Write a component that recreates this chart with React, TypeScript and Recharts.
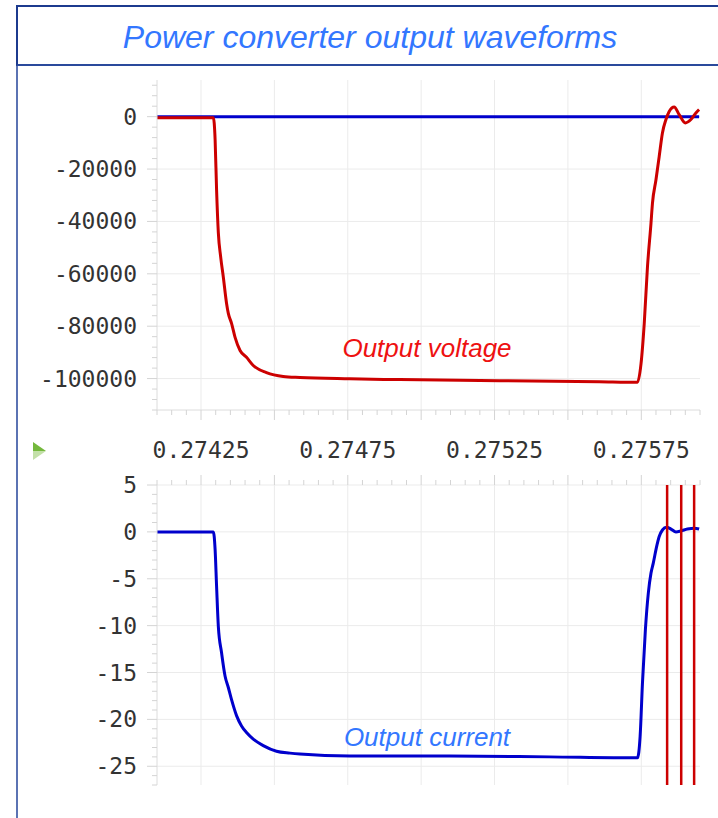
import React from "react";
import { LineChart, Line, XAxis, YAxis, CartesianGrid, ReferenceLine } from "recharts";

// time axis (s)
const xDomain: [number, number] = [0.2741, 0.27595];
const xLabels = ["0.27425", "0.27475", "0.27525", "0.27575"];
const xGrid = [0.27425, 0.2745, 0.27475, 0.275, 0.27525, 0.2755, 0.27575];

// output voltage samples
const voltageT = [
  0.2741, 0.27428, 0.274292, 0.274298, 0.274303, 0.274309, 0.274317, 0.274326, 0.274337,
  0.274343, 0.274354, 0.274366, 0.274383, 0.274405, 0.274428, 0.274473, 0.27453, 0.274587,
  0.274757, 0.274927, 0.275267, 0.275607, 0.275737, 0.275749, 0.27576, 0.275771, 0.275783,
  0.275788, 0.2758, 0.275811, 0.275822, 0.275834, 0.275845, 0.275862, 0.275879, 0.2759,
  0.275919, 0.275936, 0.275947,
];
const voltageV = [
  -400, -400, -400, -8800, -28000, -44400, -53600, -61300, -71300,
  -75100, -78900, -84300, -89300, -91900, -95000, -97700, -99200, -99600,
  -100100, -100400, -100800, -101200, -101400, -94400, -79000, -57400, -40700,
  -33100, -24100, -15200, -6200, -1100, 2000, 3700, 800, -2400,
  -1100, 1400, 2700,
];

// output current samples
const currentT = [
  0.2741, 0.274292, 0.274298, 0.274303, 0.274309, 0.27432, 0.274332, 0.274343, 0.274354,
  0.274371, 0.274388, 0.274405, 0.274428, 0.274462, 0.274507, 0.274553, 0.274587, 0.274757,
  0.275097, 0.275437, 0.275737, 0.275746, 0.275754, 0.275764, 0.275774, 0.275783, 0.275791,
  0.275802, 0.275811, 0.275822, 0.275836, 0.275851, 0.275868, 0.275885, 0.275907, 0.27593,
  0.275947,
];
const currentI = [
  0, 0, -1.9, -5.8, -10.1, -12.9, -15.4, -16.6, -17.9,
  -19.6, -20.7, -21.4, -22.1, -22.8, -23.4, -23.6, -23.7, -23.9,
  -23.9, -24.0, -24.1, -21.8, -16.1, -10.4, -6.5, -4.4, -3.3,
  -1.6, -0.5, 0.2, 0.5, 0.3, 0, 0.1, 0.3, 0.4,
  0.3,
];

// cursor markers
const markers = [0.275838, 0.275886, 0.27593];

const voltageData = voltageT.map((t, i) => ({ t, v: voltageV[i] }));
const currentData = currentT.map((t, i) => ({ t, v: currentI[i] }));

const xTicks: number[] = [];
for (let i = 0; i <= 37; i++) xTicks.push(Math.round((0.2741 + i * 0.00005) * 1e6) / 1e6);

const vTicks: number[] = [];
for (let v = -112000; v <= 12000; v += 4000) vTicks.push(v);
const vGrid = [0, -20000, -40000, -60000, -80000, -100000];

const iTicks: number[] = [];
for (let v = -27; v <= 5; v++) iTicks.push(v);
const iGrid = [5, 0, -5, -10, -15, -20, -25];

const tickFont = { fontFamily: "DejaVu Sans Mono, monospace", fontSize: 23, fill: "#333" };
const tickStroke = "#d4d4d4";
const gridStroke = "#ebebeb";

const isMajorX = (v: number) => Math.round(v * 1e5) % 25 === 0;
const xLabelFor = (v: number) => xLabels.find((s) => Math.abs(parseFloat(s) - v) < 1e-9);

const XTickBottom = (props: any) => {
  const { x, y, payload } = props;
  const label = xLabelFor(payload.value);
  return (
    <g>
      <line x1={x} x2={x} y1={y} y2={y + (isMajorX(payload.value) ? 10 : 5)} stroke={tickStroke} />
      {label && (
        <text x={x} y={y + 48} textAnchor="middle" {...tickFont}>
          {label}
        </text>
      )}
    </g>
  );
};

const XTickTop = (props: any) => {
  const { x, y, payload } = props;
  return <line x1={x} x2={x} y1={y} y2={y - (isMajorX(payload.value) ? 10 : 5)} stroke={tickStroke} />;
};

const makeYTick = (step: number) => (props: any) => {
  const { x, y, payload } = props;
  const major = Math.round(payload.value) % step === 0;
  return (
    <g>
      <line x1={x - (major ? 10 : 5)} x2={x} y1={y} y2={y} stroke={tickStroke} />
      {major && (
        <text x={x - 20} y={y} dy={8} textAnchor="end" {...tickFont}>
          {payload.value}
        </text>
      )}
    </g>
  );
};

export default function App() {
  return (
    <div style={{ position: "relative", width: 718, height: 818, background: "#fff", overflow: "hidden" }}>
      <style>{"body{margin:0}"}</style>
      {/* panel frame */}
      <div style={{ position: "absolute", left: 16, top: 63, width: 2, height: 760, background: "#5b73b3" }} />
      <div
        style={{
          position: "absolute",
          left: 16,
          top: 5,
          width: 720,
          height: 57,
          borderTop: "2px solid #1c3a8e",
          borderLeft: "2px solid #1c3a8e",
          borderBottom: "2px solid #2a4a9c",
        }}
      />
      <div
        style={{
          position: "absolute",
          left: 0,
          top: 20,
          width: 740,
          textAlign: "center",
          fontFamily: "Liberation Sans, Arial, sans-serif",
          fontStyle: "italic",
          fontSize: 32,
          lineHeight: "34px",
          color: "#3377ff",
        }}
      >
        Power converter output waveforms
      </div>

      <div style={{ position: "absolute", left: 0, top: 0 }}>
        <LineChart width={718} height={480} margin={{ top: 80, right: 18, bottom: 10, left: 0 }}>
          <CartesianGrid stroke={gridStroke} verticalValues={xGrid} horizontalValues={vGrid} />
          <XAxis
            type="number"
            dataKey="t"
            domain={xDomain}
            allowDataOverflow
            ticks={xTicks}
            interval={0}
            tickSize={0}
            tickMargin={0}
            tickLine={false}
            axisLine={{ stroke: "#dcdcdc" }}
            tick={XTickBottom}
            height={60}
          />
          <YAxis
            type="number"
            domain={[-112000, 14000]}
            allowDataOverflow
            ticks={vTicks}
            interval={0}
            tickSize={0}
            tickMargin={0}
            tickLine={false}
            axisLine={{ stroke: "#dcdcdc" }}
            tick={makeYTick(20000)}
            width={157}
          />
          <Line data={currentData} dataKey="v" type="monotone" stroke="#0000cc" strokeWidth={3} dot={false} activeDot={false} isAnimationActive={false} />
          <Line data={voltageData} dataKey="v" type="monotone" stroke="#cc0000" strokeWidth={3} dot={false} activeDot={false} isAnimationActive={false} />
        </LineChart>
      </div>

      <div style={{ position: "absolute", left: 0, top: 420 }}>
        <LineChart width={718} height={398} margin={{ top: 15, right: 18, bottom: 33, left: 0 }}>
          <CartesianGrid stroke={gridStroke} verticalValues={xGrid} horizontalValues={iGrid} />
          <XAxis
            type="number"
            dataKey="t"
            orientation="top"
            domain={xDomain}
            allowDataOverflow
            ticks={xTicks}
            interval={0}
            tickSize={0}
            tickMargin={0}
            tickLine={false}
            axisLine={false}
            tick={XTickTop}
            height={50}
          />
          <YAxis
            type="number"
            domain={[-27, 5]}
            allowDataOverflow
            ticks={iTicks}
            interval={0}
            tickSize={0}
            tickMargin={0}
            tickLine={false}
            axisLine={{ stroke: "#dcdcdc" }}
            tick={makeYTick(5)}
            width={157}
          />
          <Line data={currentData} dataKey="v" type="monotone" stroke="#0000cc" strokeWidth={3} dot={false} activeDot={false} isAnimationActive={false} />
          {markers.map((m) => (
            <ReferenceLine key={m} segment={[{ x: m, y: 5 }, { x: m, y: -27 }]} stroke="#cc0000" strokeWidth={2.5} ifOverflow="visible" />
          ))}
        </LineChart>
      </div>

      <svg style={{ position: "absolute", left: 33, top: 442 }} width={14} height={18}>
        <polygon points="0,0 13,9 0,9" fill="#74b83c" />
        <polygon points="0,9 13,9 0,18" fill="#c3e0a8" />
      </svg>

      <div
        style={{
          position: "absolute",
          left: 300,
          top: 333,
          width: 254,
          textAlign: "center",
          fontFamily: "Liberation Sans, Arial, sans-serif",
          fontStyle: "italic",
          fontSize: 26,
          lineHeight: "30px",
          color: "#ee1111",
        }}
      >
        Output voltage
      </div>
      <div
        style={{
          position: "absolute",
          left: 300,
          top: 722,
          width: 254,
          textAlign: "center",
          fontFamily: "Liberation Sans, Arial, sans-serif",
          fontStyle: "italic",
          fontSize: 26,
          lineHeight: "30px",
          color: "#3377ff",
        }}
      >
        Output current
      </div>
    </div>
  );
}
